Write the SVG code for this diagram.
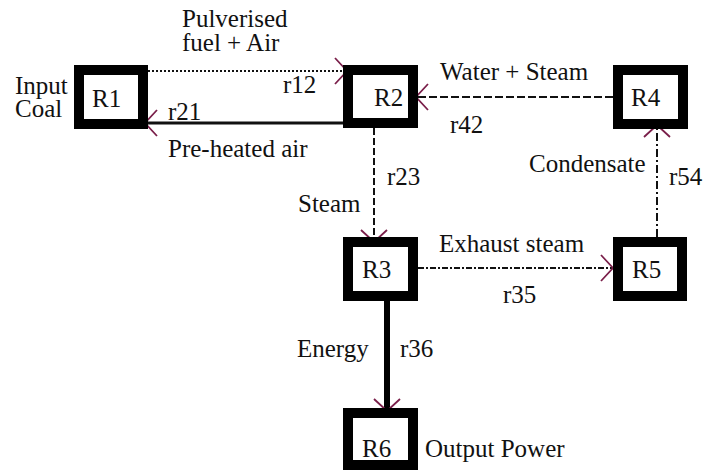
<svg xmlns="http://www.w3.org/2000/svg" width="705" height="470" viewBox="0 0 705 470">
<style>
.box{fill:#fff;stroke:#000;stroke-width:10}
text{font-family:'Liberation Serif','Times New Roman',Times,'DejaVu Serif',serif;font-size:25px;fill:#111}
.c{fill:none;stroke:#111;stroke-width:2}
</style>
<defs>
<marker id="ah" markerUnits="userSpaceOnUse" viewBox="-14 -15 16 30" markerWidth="16" markerHeight="30" refX="0" refY="0" orient="auto" overflow="visible">
<path d="M-12,-13 L0,0 L-12,13" fill="none" stroke="#7a1f4a" stroke-width="1.8"/>
</marker>
</defs>
<rect width="705" height="470" fill="#fff"/>
<g id="connectors">
<g id="r12"><line class="c" x1="148" y1="71" x2="347" y2="71" stroke-dasharray="2 2" marker-end="url(#ah)"/><text font-family="Liberation Serif, serif" x="283" y="93">r12</text><text font-family="Liberation Serif, serif" x="182" y="27">Pulverised</text><text font-family="Liberation Serif, serif" x="182" y="51">fuel + Air</text></g>
<g id="r21"><line class="c" x1="343" y1="123" x2="145" y2="123" style="stroke-width:3" marker-end="url(#ah)"/><text font-family="Liberation Serif, serif" x="168" y="120">r21</text><text font-family="Liberation Serif, serif" x="168" y="157">Pre-heated air</text></g>
<g id="r42"><line class="c" x1="613" y1="97" x2="416" y2="97" stroke-dasharray="8 3" marker-end="url(#ah)"/><text font-family="Liberation Serif, serif" x="440" y="80">Water + Steam</text><text font-family="Liberation Serif, serif" x="450" y="133">r42</text></g>
<g id="r23"><line class="c" x1="374" y1="128" x2="374" y2="242" stroke-dasharray="7 3" marker-end="url(#ah)"/><text font-family="Liberation Serif, serif" x="387" y="185">r23</text><text font-family="Liberation Serif, serif" x="298" y="212">Steam</text></g>
<g id="r54"><line class="c" x1="657" y1="237" x2="657" y2="125" stroke-dasharray="8 3 2 3" marker-end="url(#ah)"/><text font-family="Liberation Serif, serif" x="529" y="172">Condensate</text><text font-family="Liberation Serif, serif" x="669" y="185">r54</text></g>
<g id="r35"><line class="c" x1="418" y1="268" x2="613" y2="268" stroke-dasharray="6 2 2 2" marker-end="url(#ah)"/><text font-family="Liberation Serif, serif" x="439" y="252">Exhaust steam</text><text font-family="Liberation Serif, serif" x="503" y="303">r35</text></g>
<g id="r36"><line class="c" x1="387" y1="301" x2="387" y2="411" style="stroke:#000;stroke-width:6" marker-end="url(#ah)"/><text font-family="Liberation Serif, serif" x="297" y="357">Energy</text><text font-family="Liberation Serif, serif" x="400" y="357">r36</text></g>
</g>
<g id="R1"><rect class="box" x="79" y="70" width="64" height="54"/><text font-family="Liberation Serif, serif" x="92" y="107">R1</text><text font-family="Liberation Serif, serif" x="15" y="94">Input</text><text font-family="Liberation Serif, serif" x="15" y="117">Coal</text></g>
<g id="R2"><rect class="box" x="348" y="70" width="65" height="53"/><text font-family="Liberation Serif, serif" x="374" y="106">R2</text></g>
<g id="R4"><rect class="box" x="618" y="70" width="65" height="54"/><text font-family="Liberation Serif, serif" x="631" y="106">R4</text></g>
<g id="R3"><rect class="box" x="348" y="242" width="65" height="54"/><text font-family="Liberation Serif, serif" x="362" y="278">R3</text></g>
<g id="R5"><rect class="box" x="618" y="242" width="64" height="54"/><text font-family="Liberation Serif, serif" x="632" y="278">R5</text></g>
<g id="R6"><rect class="box" x="348" y="413" width="65" height="52"/><text font-family="Liberation Serif, serif" x="362" y="457">R6</text><text font-family="Liberation Serif, serif" x="425" y="457">Output Power</text></g>
</svg>
